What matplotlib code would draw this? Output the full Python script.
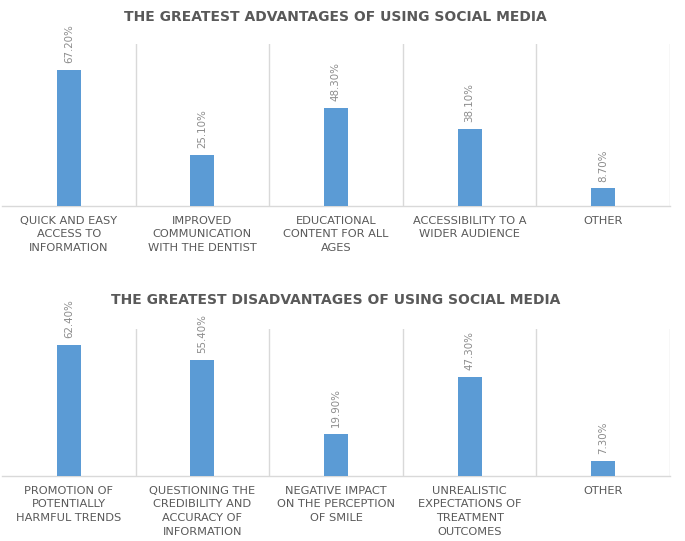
import matplotlib
matplotlib.use('Agg')
import matplotlib.pyplot as plt
import numpy as np

# Data
adv_labels = ['QUICK AND EASY\nACCESS TO\nINFORMATION',
              'IMPROVED\nCOMMUNICATION\nWITH THE DENTIST',
              'EDUCATIONAL\nCONTENT FOR ALL\nAGES',
              'ACCESSIBILITY TO A\nWIDER AUDIENCE',
              'OTHER']
adv_values = [67.2, 25.1, 48.3, 38.1, 8.7]

dis_labels = ['PROMOTION OF\nPOTENTIALLY\nHARMFUL TRENDS',
              'QUESTIONING THE\nCREDIBILITY AND\nACCURACY OF\nINFORMATION',
              'NEGATIVE IMPACT\nON THE PERCEPTION\nOF SMILE',
              'UNREALISTIC\nEXPECTATIONS OF\nTREATMENT\nOUTCOMES',
              'OTHER']
dis_values = [62.4, 55.4, 19.9, 47.3, 7.3]

BAR_COLOR = '#5B9BD5'
GRID_COLOR = '#D9D9D9'
TEXT_COLOR = '#595959'
VALUE_COLOR = '#8C8C8C'

plt.rcParams['font.family'] = ['DejaVu Sans']

fig = plt.figure(figsize=(6.85, 5.41), dpi=100)


def draw_panel(rect, labels, values, ymax, title, title_y):
    ax = fig.add_axes(rect)
    x = np.arange(len(values))
    ax.bar(x, values, width=0.18, color=BAR_COLOR, zorder=3)
    ax.set_xlim(-0.5, len(values) - 0.5)
    ax.set_ylim(0, ymax)
    # category separators
    for b in np.arange(0.5, len(values), 1.0):
        ax.axvline(b, color=GRID_COLOR, lw=1, zorder=1)
    for s in ['top', 'right', 'left']:
        ax.spines[s].set_visible(False)
    ax.spines['bottom'].set_color(GRID_COLOR)
    ax.spines['bottom'].set_linewidth(1)
    ax.set_yticks([])
    ax.set_xticks(x)
    ax.set_xticklabels(labels, fontsize=8.2, color=TEXT_COLOR, linespacing=1.45)
    ax.tick_params(axis='x', length=0, pad=7)
    for xi, v in zip(x, values):
        ax.annotate(f'{v:.2f}%', (xi, v), xytext=(0, 5), textcoords='offset points',
                    rotation=90, ha='center', va='bottom', fontsize=7.4,
                    color=VALUE_COLOR)
    fig.text(0.49, title_y, title, ha='center', va='center', fontsize=10,
             fontweight='bold', color=TEXT_COLOR)
    return ax


draw_panel([0.003, 0.619, 0.975, 0.300], adv_labels, adv_values, 80,
           'THE GREATEST ADVANTAGES OF USING SOCIAL MEDIA', 0.968)
draw_panel([0.003, 0.120, 0.975, 0.272], dis_labels, dis_values, 70,
           'THE GREATEST DISADVANTAGES OF USING SOCIAL MEDIA', 0.445)

fig.savefig('out.png', dpi=100, facecolor='white')
